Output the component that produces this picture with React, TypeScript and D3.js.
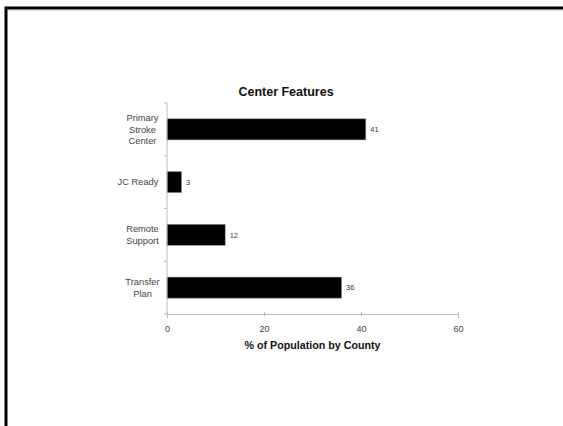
import React, { useEffect, useRef } from 'react';
import * as d3 from 'd3';

const categories = [['Primary', 'Stroke', 'Center'], ['JC Ready'], ['Remote', 'Support'], ['Transfer', 'Plan']];
const values = [41, 3, 12, 36];
const xTicks = [0, 20, 40, 60];
const chartTitle = 'Center Features';
const xTitle = '% of Population by County';

const W = 563;
const H = 426;
const margin = { top: 103, right: 105, bottom: 112, left: 167 };
const FONT = 'Liberation Sans, Arial, sans-serif';

const App: React.FC = () => {
  const ref = useRef<SVGSVGElement>(null);

  useEffect(() => {
    if (!ref.current) return;
    const width = W - margin.left - margin.right;
    const height = H - margin.top - margin.bottom;

    const root = d3.select(ref.current);
    root.selectAll('*').remove();

    // slide frame
    root.append('path')
      .attr('d', `M6,${H} L6,8 L${W},8`)
      .attr('fill', 'none')
      .attr('stroke', '#000')
      .attr('stroke-width', 3);
    root.append('line')
      .attr('x1', 7.5).attr('x2', W)
      .attr('y1', 9.8).attr('y2', 9.8)
      .attr('stroke', '#888')
      .attr('stroke-width', 1);

    const svg = root.append('g')
      .attr('transform', `translate(${margin.left},${margin.top})`);

    const idx = categories.map((_, i) => String(i));
    const yScale = d3.scaleBand<string>()
      .domain(idx)
      .range([0, height])
      .paddingInner(0.6)
      .paddingOuter(0.3);

    const xScale = d3.scaleLinear()
      .domain([0, 60])
      .range([0, width]);

    // bars
    svg.selectAll('rect.bar')
      .data(values)
      .join('rect')
      .attr('class', 'bar')
      .attr('x', 0)
      .attr('y', (_, i) => yScale(String(i)) as number)
      .attr('width', d => xScale(d))
      .attr('height', yScale.bandwidth())
      .attr('fill', '#000')
      .attr('stroke', '#999')
      .attr('stroke-width', 0.6);

    // value labels
    svg.selectAll('text.val')
      .data(values)
      .join('text')
      .attr('class', 'val')
      .attr('x', d => xScale(d) + 4.5)
      .attr('y', (_, i) => (yScale(String(i)) as number) + yScale.bandwidth() / 2)
      .attr('dy', '0.35em')
      .style('font-family', FONT)
      .style('font-size', '7.5px')
      .attr('fill', '#333')
      .text(d => d);

    // x axis
    const xAxis = svg.append('g')
      .attr('transform', `translate(0,${height})`)
      .call(d3.axisBottom(xScale).tickValues(xTicks).tickSize(4).tickPadding(8));
    xAxis.select('.domain').attr('stroke', '#bbb');
    xAxis.selectAll('.tick line').attr('stroke', '#bbb').attr('y1', -2).attr('y2', 2);
    xAxis.selectAll('text')
      .style('font-family', FONT)
      .style('font-size', '9px')
      .attr('fill', '#444');

    // y axis line with ticks between categories
    svg.append('line')
      .attr('x1', 0).attr('x2', 0)
      .attr('y1', 0).attr('y2', height)
      .attr('stroke', '#bbb');
    const bounds = d3.range(categories.length + 1).map(i => i * height / categories.length);
    svg.selectAll('line.ytick')
      .data(bounds)
      .join('line')
      .attr('class', 'ytick')
      .attr('x1', -3).attr('x2', 0)
      .attr('y1', d => d).attr('y2', d => d)
      .attr('stroke', '#bbb');

    // category labels
    categories.forEach((lines, i) => {
      const cy = (yScale(String(i)) as number) + yScale.bandwidth() / 2;
      const lh = 11.5;
      const t = svg.append('text')
        .attr('text-anchor', 'middle')
        .style('font-family', FONT)
        .style('font-size', '9.3px')
        .attr('fill', '#444');
      lines.forEach((ln, j) => {
        t.append('tspan')
          .attr('x', lines.length > 1 ? -24.5 : -29)
          .attr('y', cy + (j - (lines.length - 1) / 2) * lh)
          .attr('dy', '0.35em')
          .text(ln);
      });
    });

    // title
    svg.append('text')
      .attr('x', 119)
      .attr('y', -7)
      .attr('text-anchor', 'middle')
      .style('font-family', FONT)
      .style('font-size', '12.5px')
      .style('font-weight', 'bold')
      .attr('fill', '#111')
      .text(chartTitle);

    // x axis title
    svg.append('text')
      .attr('x', width / 2)
      .attr('y', height + 35)
      .attr('text-anchor', 'middle')
      .style('font-family', FONT)
      .style('font-size', '10.7px')
      .style('font-weight', 'bold')
      .attr('fill', '#111')
      .text(xTitle);
  }, []);

  return (
    <div style={{ position: 'absolute', left: 0, top: 0 }}>
      <svg ref={ref} width={W} height={H} style={{ display: 'block', background: '#fff' }}></svg>
    </div>
  );
};

export default App;
